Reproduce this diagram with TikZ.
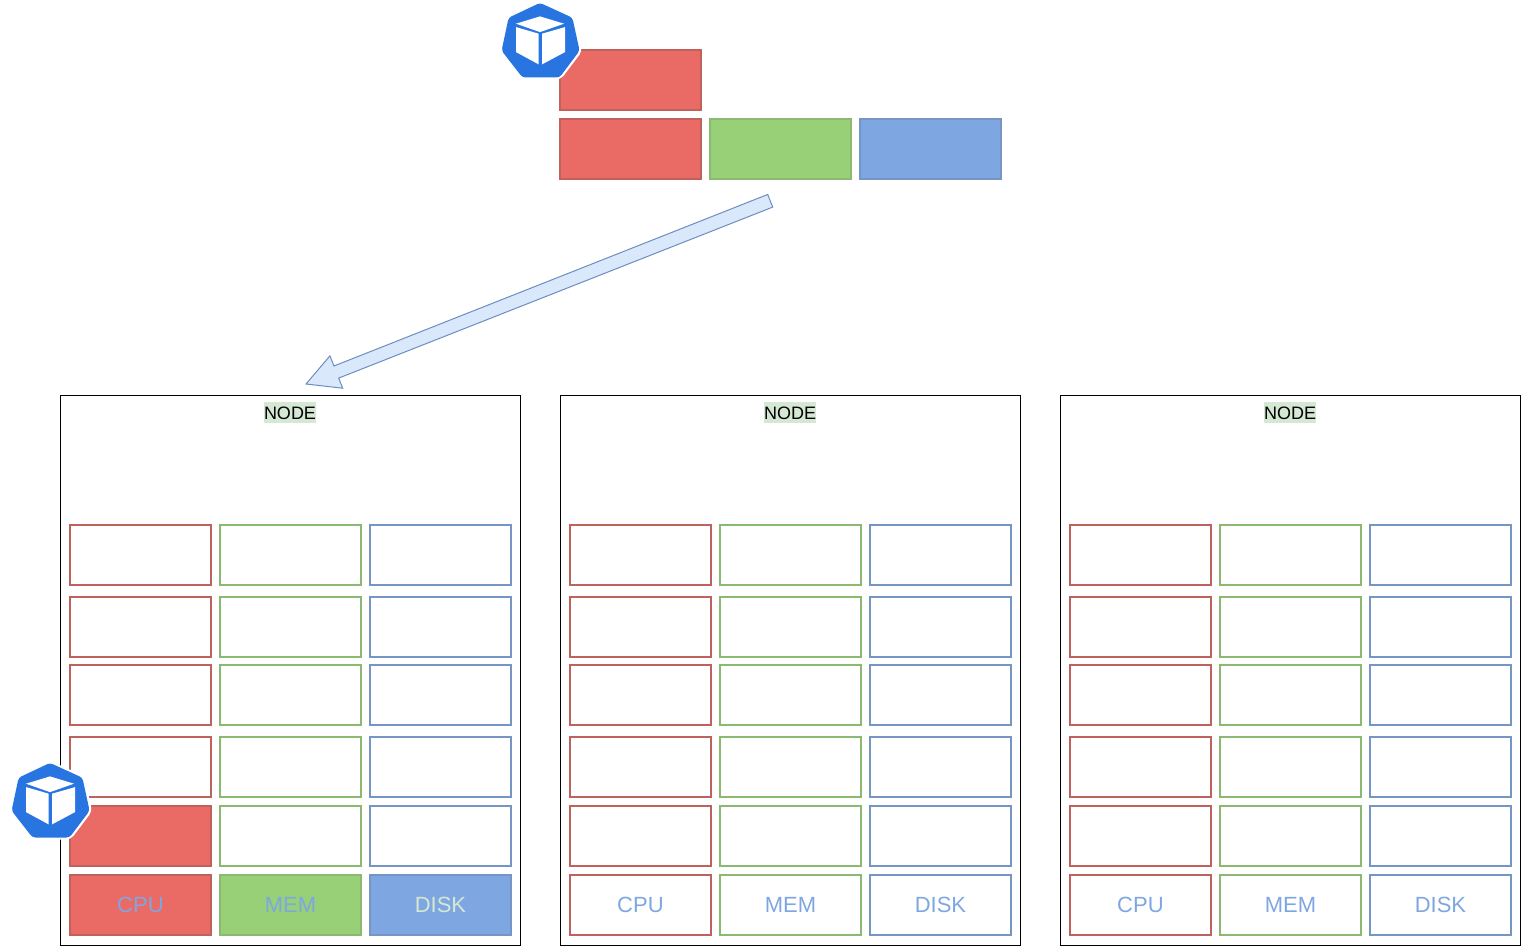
\documentclass[tikz,border=0pt]{standalone}
\usepackage{fontspec}
\setmainfont{Liberation Sans}
\usetikzlibrary{calc}
\definecolor{redfill}{HTML}{EA6B66}
\definecolor{redline}{HTML}{BF625E}
\definecolor{greenfill}{HTML}{97D077}
\definecolor{greenline}{HTML}{8BB971}
\definecolor{bluefill}{HTML}{7EA6E0}
\definecolor{blueline}{HTML}{7595C4}
\definecolor{arrowline}{HTML}{6C8EBF}
\definecolor{palegreen}{HTML}{D5E8D4}
\definecolor{arrowfill}{HTML}{DAE8FC}
\definecolor{k8sblue}{HTML}{2875E2}
\tikzset{
  cell/.style={rectangle,anchor=north west,inner sep=0pt,outer sep=0pt,
    minimum width=140.5pt,minimum height=59.6pt,line width=1.8pt,
    text height=14pt,text depth=0pt,text width=140pt,align=center,
    font=\fontsize{22}{26}\selectfont},
  redcell/.style={cell,draw=redline},
  greencell/.style={cell,draw=greenline},
  bluecell/.style={cell,draw=blueline},
  nodebox/.style={rectangle,anchor=north west,inner sep=0pt,outer sep=0pt,
    minimum width=460pt,minimum height=550pt,draw=black,line width=1pt},
  nodelabel/.style={rectangle,fill=palegreen,inner sep=0pt,text=black,
    minimum width=52pt,text height=17pt,text depth=4pt,font=\fontsize{18}{21}\selectfont},
  k8s/.pic={
    \draw[fill=k8sblue,draw=white,line width=3pt,rounded corners=4pt]
      (0,-38.4) -- (33,-23.4) -- (40.5,10.2) -- (20,37.3) -- (-18,37.3) -- (-39,10.2) -- (-32,-23.4) -- cycle;
    \fill[k8sblue,rounded corners=3pt]
      (0,-37.8) -- (32.4,-23) -- (39.6,10) -- (19.5,36.8) -- (-17.5,36.8) -- (-38.4,10) -- (-31.4,-23) -- cycle;
    \fill[white] (-24,-17) -- (0,-24.3) -- (24,-17) -- (0,-8.6) -- cycle;
    \fill[white] (-24,-13.6) -- (-1.3,-7) -- (-1.3,23.7) -- (-24,11.4) -- cycle;
    \fill[white] (2,-7) -- (25,-13.6) -- (25,11.4) -- (2,23.7) -- cycle;
  }
}
\begin{document}
\begin{tikzpicture}[x=1pt,y=-1pt]
\useasboundingbox (0,0) rectangle (1521,947);
% top group
\node[redcell,fill=redfill] (podcpu) at (560.2,50.2) {};
\node[redcell,fill=redfill] (reqcpu) at (560.2,119.2) {};
\node[greencell,fill=greenfill] (reqmem) at (710.2,119.2) {};
\node[bluecell,fill=bluefill] (reqdisk) at (860.2,119.2) {};
\pic (topicon) at (540,40.7) {k8s};
% worker boxes
\foreach \n/\ox in {1/0,2/500,3/1000}{
  \node[nodebox] (box\n) at ({60.5+\ox},395.5) {};
  \node[nodelabel] (title\n) at ({290+\ox},412.5) {NODE};
  \foreach \r/\ry in {1/525,2/597,3/665,4/737,5/806}{
    \node[redcell] (n\n r\r cpu) at ({70.2+\ox},\ry.2) {};
    \node[greencell] (n\n r\r mem) at ({220.2+\ox},\ry.2) {};
    \node[bluecell] (n\n r\r disk) at ({370.2+\ox},\ry.2) {};
  }
}
% bottom rows
\node[redcell,fill=redfill,text=bluefill] (n1cpu) at (70.2,875.2) {CPU};
\node[greencell,fill=greenfill,text=bluefill] (n1mem) at (220.2,875.2) {MEM};
\node[bluecell,fill=bluefill,text=palegreen] (n1disk) at (370.2,875.2) {DISK};
\foreach \n/\ox in {2/500,3/1000}{
  \node[redcell,text=bluefill] (n\n cpu) at ({70.2+\ox},875.2) {CPU};
  \node[greencell,text=bluefill] (n\n mem) at ({220.2+\ox},875.2) {MEM};
  \node[bluecell,text=bluefill] (n\n disk) at ({370.2+\ox},875.2) {DISK};
}
\node[redcell,fill=redfill] (n1used) at (70.2,806.2) {};
\pic (lowicon) at (50,800.7) {k8s};
% block arrow
\coordinate (src) at (770.2,200.8);
\coordinate (dst) at (306,384);
\coordinate (neck) at ($(dst)!32.6pt!(src)$);
\draw[draw=arrowline,fill=arrowfill,line width=1pt,line join=miter]
  ($(src)!6.8pt!90:(dst)$) -- ($(neck)!6.5pt!90:(dst)$) -- ($(neck)!17.4pt!90:(dst)$)
  -- (dst) -- ($(neck)!17.4pt!-90:(dst)$) -- ($(neck)!6.5pt!-90:(dst)$)
  -- ($(src)!6.8pt!-90:(dst)$) -- cycle;
\end{tikzpicture}
\end{document}
